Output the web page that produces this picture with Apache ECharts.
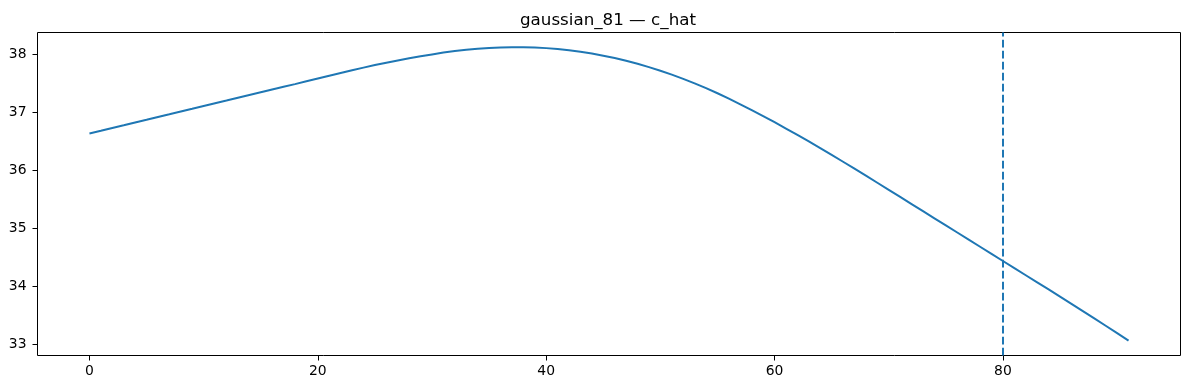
<!DOCTYPE html>
<html>
<head>
<meta charset="utf-8">
<script src="https://cdn.jsdelivr.net/npm/echarts@6/dist/echarts.min.js"></script>
<style>
html,body{margin:0;padding:0;background:#fff;}
#chart{width:1189px;height:390px;}
</style>
</head>
<body>
<div id="chart"></div>
<script>
const titleText = "gaussian_81 — c_hat";
const xValues = [0,1,2,3,4,5,6,7,8,9,10,11,12,13,14,15,16,17,18,19,20,21,22,23,24,25,26,27,28,29,30,31,32,33,34,35,36,37,38,39,40,41,42,43,44,45,46,47,48,49,50,51,52,53,54,55,56,57,58,59,60,61,62,63,64,65,66,67,68,69,70,71,72,73,74,75,76,77,78,79,80,81,82,83,84,85,86,87,88,89,90,91];
const cHat = [
36.640,36.687,36.735,36.782,36.830,36.877,36.925,36.972,37.020,37.067,
37.115,37.162,37.209,37.257,37.304,37.351,37.398,37.445,37.492,37.540,
37.588,37.636,37.684,37.731,37.777,37.821,37.862,37.901,37.938,37.973,
38.005,38.037,38.063,38.085,38.103,38.116,38.125,38.130,38.129,38.124,
38.114,38.098,38.077,38.051,38.020,37.984,37.942,37.895,37.843,37.786,
37.724,37.656,37.583,37.505,37.422,37.334,37.240,37.143,37.043,36.940,
36.834,36.725,36.614,36.501,36.386,36.269,36.151,36.031,35.910,35.788,
35.666,35.543,35.420,35.297,35.174,35.051,34.928,34.805,34.682,34.559,
34.436,34.313,34.190,34.067,33.944,33.821,33.696,33.570,33.444,33.317,
33.189,33.060];
const markerX = 80;
const xTicks = [0,20,40,60,80];
const yTicks = [33,34,35,36,37,38];
const xRange = [-4.55, 95.55];
const yRange = [32.803, 38.384];

const chart = echarts.init(document.getElementById('chart'), null, {renderer:'canvas'});
const font = 'DejaVu Sans';
chart.setOption({
  animation:false,
  backgroundColor:'#fff',
  title:{
    text:titleText, left:603, top:7, textAlign:'center',
    textStyle:{fontFamily:font, fontSize:16.7, fontWeight:'normal', color:'#000'}
  },
  grid:{left:37.5, right:8.5, top:32.5, bottom:34.5, show:true, borderColor:'#000', borderWidth:1, outerBoundsMode:'none'},
  xAxis:{
    type:'value', min:xRange[0], max:xRange[1],
    splitLine:{show:false},
    axisLine:{show:false, onZero:false},
    axisTick:{show:true, length:5, customValues:xTicks, lineStyle:{color:'#000', width:1}},
    axisLabel:{customValues:xTicks, margin:9, color:'#000', fontFamily:font, fontSize:13.9}
  },
  yAxis:{
    type:'value', min:yRange[0], max:yRange[1],
    splitLine:{show:false},
    axisLine:{show:false, onZero:false},
    axisTick:{show:true, length:5, customValues:yTicks, lineStyle:{color:'#000', width:1}},
    axisLabel:{customValues:yTicks, margin:11, color:'#000', fontFamily:font, fontSize:13.9}
  },
  series:[{
    type:'line',
    data:xValues.map((x,i)=>[x,cHat[i]]),
    showSymbol:false, symbol:'none',
    lineStyle:{color:'#1f77b4', width:2},
    markLine:{
      silent:true, symbol:['none','none'],
      label:{show:false},
      lineStyle:{color:'#1f77b4', width:2, type:[7.7,3.3]},
      data:[{xAxis:markerX}]
    }
  }]
});
</script>
</body>
</html>
